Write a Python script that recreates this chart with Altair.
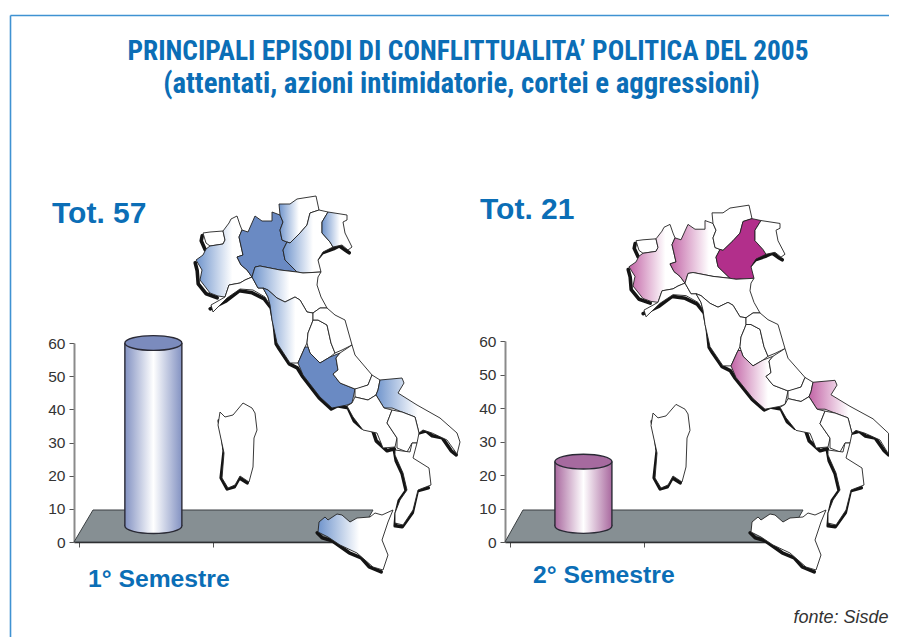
import altair as alt

# ---------- chart values ----------
SEMESTERS = ["1° Semestre", "2° Semestre"]
TOTALS = [57, 21]
CATEGORY_POS = [0.555, 0.55]
FLOOR_DEPTH = 3
CYL_BASE = 4.8
TICKS = [0, 10, 20, 30, 40, 50, 60]

TITLE_1 = "PRINCIPALI EPISODI DI CONFLITTUALITA’ POLITICA DEL 2005"
TITLE_2 = "(attentati, azioni intimidatorie, cortei e aggressioni)"
SOURCE = "fonte: Sisde"

# ---------- map outlines (map units) ----------
AOSTA = [(203,233),(210,232),(223,231),(225,240),(223,244),(210,246),(206,243)]
PIEMONTE = [(210,246),(223,244),(225,240),(223,231),(229,223),(231,219),(237,216),(240,225),(242,230),(239,237),(243,255),(237,257),(241,265),(247,270),(252,277),(245,280),(240,283),(229,285),(225,297),(218,296),(210,293),(200,280),(202,270),(196,260),(203,255),(206,249)]
LOMBARDIA = [(242,230),(248,232),(255,216),(262,221),(272,221),(272,212),(280,215),(283,222),(280,230),(282,240),(287,242),(283,250),(285,260),(297,272),(280,270),(260,266),(255,267),(252,277),(247,270),(241,265),(237,257),(243,255),(239,237)]
TRENTINO = [(280,215),(279,204),(290,204),(297,199),(316,196),(319,210),(310,213),(307,225),(300,233),(290,243),(287,242),(282,240),(280,230),(283,222)]
VENETO = [(319,210),(328,212),(322,222),(322,233),(330,242),(333,247),(323,252),(318,260),(321,272),(303,273),(297,272),(285,260),(283,250),(287,242),(290,243),(300,233),(307,225),(310,213)]
FRIULI = [(328,212),(347,215),(347,220),(343,222),(345,233),(352,247),(348,250),(342,245),(333,247),(330,242),(322,233),(322,222)]
LIGURIA = [(225,297),(229,285),(240,283),(245,280),(252,277),(258,288),(263,288),(268,297),(270,305),(265,297),(253,290),(240,289),(227,298),(213,312),(211,305)]
EMILIA = [(255,267),(260,266),(280,270),(297,272),(303,273),(321,272),(318,277),(317,285),(321,297),(327,308),(320,308),(313,313),(307,312),(300,300),(295,297),(285,302),(277,298),(268,290),(263,288),(258,288),(252,277)]
TOSCANA = [(263,288),(268,290),(277,298),(285,302),(295,297),(300,300),(307,312),(313,313),(313,320),(312,323),(308,333),(307,343),(305,347),(298,363),(290,363),(277,343),(272,320),(270,305),(268,297)]
UMBRIA = [(312,323),(308,333),(307,343),(308,347),(310,353),(320,363),(330,357),(335,353),(331,343),(327,325),(318,320),(313,320)]
MARCHE = [(327,308),(335,315),(345,320),(352,345),(342,350),(335,353),(331,343),(327,325),(318,320),(313,320),(313,313),(320,308)]
LAZIO = [(305,347),(308,347),(310,353),(320,363),(330,357),(340,353),(336,358),(338,370),(333,374),(340,383),(355,389),(352,403),(347,405),(332,408),(320,397),(303,375),(298,363)]
ABRUZZO = [(340,353),(352,345),(355,355),(372,375),(368,385),(357,389),(355,389),(340,383),(333,374),(338,370),(336,358)]
MOLISE = [(372,375),(380,380),(378,390),(376,395),(368,400),(355,397),(355,389),(368,385)]
PUGLIA = [(380,380),(402,378),(404,383),(398,393),(417,405),(440,418),(457,433),(460,442),(457,454),(447,440),(432,433),(423,430),(419,433),(415,417),(402,412),(392,408),(384,408),(376,395),(378,390)]
CAMPANIA = [(352,403),(355,397),(368,400),(376,395),(384,408),(392,410),(387,423),(397,438),(395,447),(383,448),(377,433),(363,430),(353,417),(347,406)]
BASILICATA = [(392,410),(402,412),(415,417),(419,433),(417,443),(412,443),(407,452),(397,448),(397,438),(387,423)]
CALABRIA = [(395,450),(410,452),(412,443),(417,443),(413,458),(429,468),(431,485),(418,490),(413,510),(403,525),(395,523),(395,513),(400,500),(407,490),(403,473),(395,455)]
SICILIA = [(393,510),(388,522),(382,540),(388,555),(383,570),(373,567),(357,553),(340,545),(328,537),(318,532),(319,522),(325,517),(328,520),(337,514),(342,515),(350,522),(357,518),(370,517),(375,513),(382,515)]
SARDEGNA = [(220,412),(225,417),(233,415),(243,403),(252,408),(255,413),(257,430),(254,438),(253,467),(249,482),(240,476),(235,485),(228,488),(222,478),(224,453),(218,425)]

COASTS = [
    [(203,235),(202,240),(206,249)],
    [(196,262),(198,270),(199,283),(207,293),(218,297)],
    [(211,308),(227,300),(240,290),(253,292),(265,298),(272,307),(275,323),(277,343),(280,348),(290,363),(298,367),(303,375),(320,397),(332,408),(338,405),(349,407),(355,420),(363,427),(373,428),(377,440),(388,450),(395,448),(397,460),(403,473),(407,490),(400,500),(397,513),(396,525),(403,526),(413,512),(418,490),(429,487)],
    [(318,258),(323,252),(334,248),(340,245),(347,250),(350,252)],
    [(420,432),(427,430),(433,435),(443,437),(452,450),(457,454)],
    [(318,532),(323,537),(333,540),(350,552),(362,557),(370,566),(382,571)],
    [(220,420),(223,433),(225,450),(222,477),(228,488),(235,486),(240,477),(248,482)],
]

REGIONS = {
    "Aosta": AOSTA, "Piemonte": PIEMONTE, "Lombardia": LOMBARDIA, "Trentino": TRENTINO,
    "Veneto": VENETO, "Friuli": FRIULI, "Liguria": LIGURIA, "Emilia": EMILIA,
    "Toscana": TOSCANA, "Umbria": UMBRIA, "Marche": MARCHE, "Lazio": LAZIO,
    "Abruzzo": ABRUZZO, "Molise": MOLISE, "Puglia": PUGLIA, "Campania": CAMPANIA,
    "Basilicata": BASILICATA, "Calabria": CALABRIA, "Sicilia": SICILIA, "Sardegna": SARDEGNA,
}
FLOOR_LEFT = [(74,542),(93,510),(373,510),(355,542)]
FLOOR_RIGHT = [(505,542),(523,510),(803,510),(785,542)]

BLUE_SOLID = "#6a8ac3"
BLUE_EDGE = "#6f94cc"
PINK_SOLID = "#b22f8b"
PINK_EDGE = "#c264a6"
TEXT_BLUE = "#0b6eb6"


def fade(color, white_at):
    return alt.LinearGradient(
        gradient="linear", x1=0, x2=1, y1=0, y2=0,
        stops=[alt.GradientStop(color=color, offset=0),
               alt.GradientStop(color="#ffffff", offset=white_at),
               alt.GradientStop(color="#ffffff", offset=1)])


def cylinder_fill(color):
    return alt.LinearGradient(
        gradient="linear", x1=0, x2=1, y1=0, y2=0,
        stops=[alt.GradientStop(color=color, offset=0),
               alt.GradientStop(color="#ffffff", offset=0.5),
               alt.GradientStop(color=color, offset=1)])


LEFT_FILLS = {
    "Lombardia": BLUE_SOLID, "Lazio": BLUE_SOLID,
    "Trentino": fade(BLUE_EDGE, 0.5), "Veneto": fade(BLUE_EDGE, 0.6), "Friuli": fade(BLUE_EDGE, 0.6),
    "Piemonte": fade(BLUE_EDGE, 0.65), "Emilia": fade(BLUE_EDGE, 0.5), "Toscana": fade(BLUE_EDGE, 0.65),
    "Puglia": fade(BLUE_EDGE, 0.5), "Sicilia": fade(BLUE_EDGE, 0.55),
}
RIGHT_FILLS = {
    "Veneto": PINK_SOLID, "Lombardia": fade(PINK_EDGE, 0.65), "Piemonte": fade(PINK_EDGE, 0.65),
    "Lazio": fade(PINK_EDGE, 0.65), "Puglia": fade(PINK_EDGE, 0.5),
}

PROJ = dict(type="identity", scale=1, translate=[-8, -8])


def place_left(pts):
    return [[x, y] for x, y in pts]


def place_right(pts):
    # second map: same outline, shifted, slightly shorter in the north
    return [[min(x + 433, 888.5), y + max(0, (440 - y) * 0.0375)] for x, y in pts]


def polygon(pts):
    return {"type": "Feature", "properties": {}, "geometry": {"type": "Polygon", "coordinates": [pts + [pts[0]]]}}


def polyline(pts):
    return {"type": "Feature", "properties": {}, "geometry": {"type": "LineString", "coordinates": pts}}


def map_layers(place, fills):
    # the raised coast sits just outside the outline, towards the lower left
    layers = [
        alt.Chart(alt.Data(values=[polyline(place([(x - 0.8, y + 0.8) for x, y in c])) for c in COASTS]))
        .mark_geoshape(filled=False, stroke="#141414", strokeWidth=3.6, strokeJoin="round", strokeCap="round")
        .project(**PROJ)
    ]
    for name, pts in REGIONS.items():
        layers.append(
            alt.Chart(alt.Data(values=[polygon(place(pts))]))
            .mark_geoshape(fill=fills.get(name, "#ffffff"), stroke="#222222", strokeWidth=0.9, strokeJoin="round")
            .project(**PROJ)
        )
    return layers


def floor(pts):
    return (alt.Chart(alt.Data(values=[polygon([list(p) for p in pts])]))
            .mark_geoshape(fill="#868f93", stroke="#3a3f42", strokeWidth=1)
            .project(**PROJ))


def cylinder(i, xrange, yrange, axis_pos, side, top):
    data = alt.Data(values=[{"pos": CATEGORY_POS[i], "top": TOTALS[i] + FLOOR_DEPTH, "base": CYL_BASE}])
    xs = alt.Scale(domain=[0, 2], range=xrange)
    ys = alt.Scale(domain=[0, 60], range=yrange)
    x_axis = alt.Axis(values=[0, 1, 2], labels=False, title=None, grid=False, orient="bottom", offset=-95,
                      domainColor="#222222", domainWidth=1.4, tickColor="#555555", tickSize=5, tickWidth=1)
    y_axis = alt.Axis(values=TICKS, title=None, grid=False, orient="left", offset=-axis_pos,
                      domainColor="#8a8a8a", domainWidth=2, tickColor="#555555", tickSize=5, tickWidth=1,
                      labelFont="Liberation Sans", labelFontSize=15.5, labelColor="#333333", labelPadding=4)
    x = alt.X("pos:Q", scale=xs, axis=x_axis)
    yt = alt.Y("top:Q", scale=ys, axis=y_axis)
    ybase = alt.Y("base:Q", scale=ys, axis=y_axis)
    ellipse = "M-1,0A1,0.26,0,1,1,1,0A1,0.26,0,1,1,-1,0Z"
    chart = alt.Chart(data)
    return alt.layer(
        chart.mark_point(shape=ellipse, size=3249, filled=True, fill=cylinder_fill(side), stroke="#2a2a35",
                         strokeWidth=1.4, opacity=1).encode(x=x, y=ybase),
        chart.mark_bar(size=57, fill=cylinder_fill(side)).encode(x=x, y=yt, y2="base:Q"),
        chart.mark_rule(color="#2a2a35", strokeWidth=1.4, xOffset=-28.5).encode(x=x, y=yt, y2="base:Q"),
        chart.mark_rule(color="#2a2a35", strokeWidth=1.4, xOffset=28.5).encode(x=x, y=yt, y2="base:Q"),
        chart.mark_point(shape=ellipse, size=3249, filled=True, fill=top, stroke="#2a2a35",
                         strokeWidth=1.4, opacity=1).encode(x=x, y=yt),
    )


def label(text, x, y, **kw):
    return (alt.Chart(alt.Data(values=[{"t": text}]))
            .mark_text(baseline="alphabetic", **kw)
            .encode(x=alt.value(x), y=alt.value(y), text="t:N"))


frame = [
    alt.Chart(alt.Data(values=[{}])).mark_rule(color="#3f92d2", strokeWidth=1.6)
    .encode(x=alt.value(2.5), y=alt.value(7.5), y2=alt.value(629)),
    alt.Chart(alt.Data(values=[{}])).mark_rule(color="#3f92d2", strokeWidth=1.6)
    .encode(x=alt.value(2.5), x2=alt.value(881), y=alt.value(7.5)),
]

TITLE_FONT = "Roboto Condensed, Open Sans Condensed, Roboto"
texts = [
    label(TITLE_1, 460, 52, font=TITLE_FONT, fontWeight="bold", fontSize=27.4, color=TEXT_BLUE, align="center"),
    label(TITLE_2, 453.5, 85, font=TITLE_FONT, fontWeight="bold", fontSize=28.8, color=TEXT_BLUE, align="center"),
    label(f"Tot. {TOTALS[0]}", 44, 215, font="Liberation Sans", fontWeight="bold", fontSize=30, color=TEXT_BLUE, align="left"),
    label(f"Tot. {TOTALS[1]}", 472, 211, font="Liberation Sans", fontWeight="bold", fontSize=30, color=TEXT_BLUE, align="left"),
    label(SEMESTERS[0], 80, 579, font="Liberation Sans", fontWeight="bold", fontSize=24.7, color=TEXT_BLUE, align="left"),
    label(SEMESTERS[1], 525, 575, font="Liberation Sans", fontWeight="bold", fontSize=24.7, color=TEXT_BLUE, align="left"),
    label(SOURCE, 880.5, 615, font="Liberation Sans", fontStyle="italic", fontSize=18, color="#333333", align="right"),
]

layers = (
    frame + texts
    + [floor(FLOOR_LEFT), floor(FLOOR_RIGHT)]
    + [cylinder(0, [66, 344], [534, 335], 66, "#8392c2", "#7b8bbd"),
       cylinder(1, [497, 774], [534, 333], 497, "#a9699f", "#a66a9f")]
    + map_layers(place_left, LEFT_FILLS)
    + map_layers(place_right, RIGHT_FILLS)
)

chart = (
    alt.layer(*layers)
    .resolve_scale(x="independent", y="independent")
    .resolve_axis(x="independent", y="independent")
    .properties(width=881, height=629, padding=0, autosize=alt.AutoSizeParams(type="none"),
                background="#ffffff")
    .configure_view(stroke=None)
)

chart.save("out.html", embed_options={"renderer": "svg", "actions": False})
